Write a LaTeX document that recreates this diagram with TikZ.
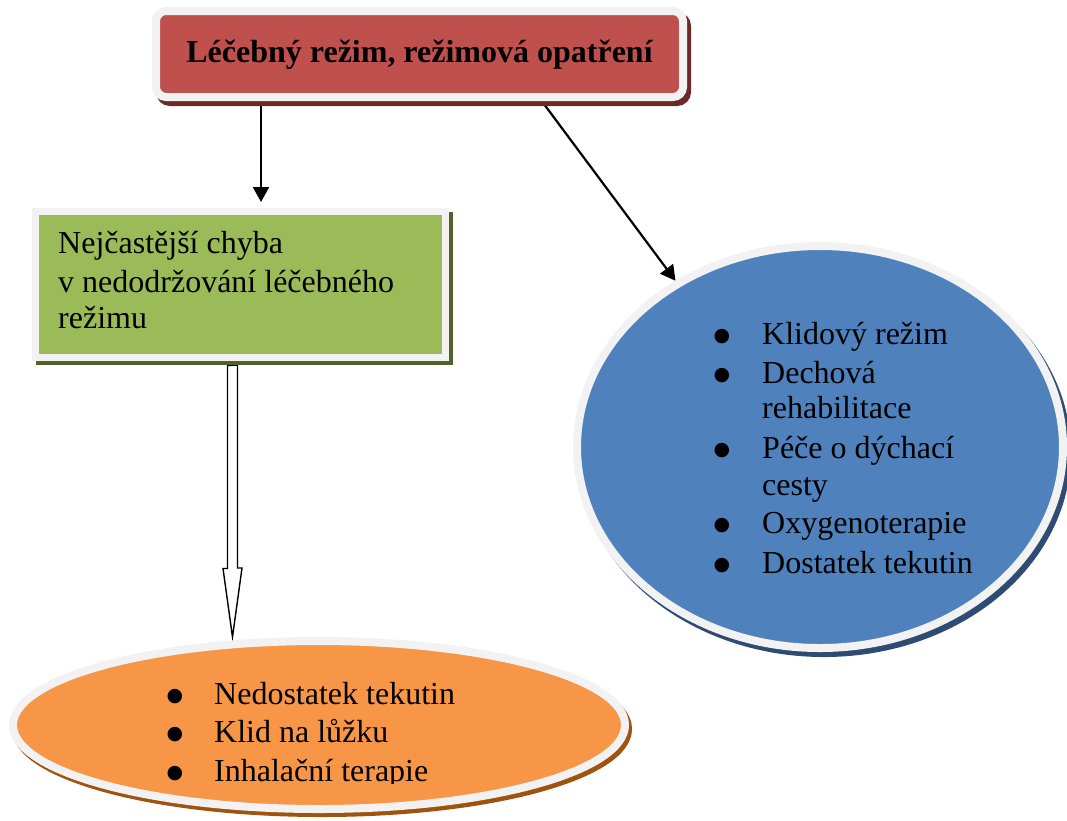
\documentclass[tikz,border=0pt]{standalone}
\usepackage{fontspec}
\setmainfont{Liberation Serif}
\newfontfamily\dotfont{DejaVu Sans}
\usetikzlibrary{arrows.meta,shapes.geometric,backgrounds,calc}

\definecolor{framegray}{HTML}{F2F2F2}
\definecolor{boxred}{HTML}{C0504D}
\definecolor{shadered}{HTML}{6B2A28}
\definecolor{boxgreen}{HTML}{9BBB59}
\definecolor{shadegreen}{HTML}{4F6228}
\definecolor{boxblue}{HTML}{4F81BD}
\definecolor{shadeblue}{HTML}{2E4B73}
\definecolor{boxorange}{HTML}{F79646}
\definecolor{shadeorange}{HTML}{A0520F}

\begin{document}
\begin{tikzpicture}[x=1pt,y=-1pt,
  framed/.style={draw=framegray, inner sep=0pt},
  titleshape/.style={rectangle, rounded corners=10pt, line width=8pt,
    minimum width=527pt, minimum height=86pt, inner sep=0pt},
  greenshape/.style={rectangle, line width=7pt,
    minimum width=410pt, minimum height=146pt, inner sep=0pt},
  blueshape/.style={ellipse, line width=8pt,
    minimum width=486pt, minimum height=402pt, inner sep=0pt},
  orangeshape/.style={ellipse, line width=8pt,
    minimum width=612pt, minimum height=168pt, inner sep=0pt},
  txt/.style={inner sep=0pt, anchor=base west, font=\fontsize{32}{38}\selectfont},
  bul/.style={inner sep=0pt, anchor=base, font=\dotfont\fontsize{19}{19}\selectfont},
  arr/.style={line width=2.2pt, -{Triangle[length=15pt,width=16pt]}},
  hollow/.style={draw=black, fill=white, line width=1.4pt, line join=miter}
]
\useasboundingbox (0,0) rectangle (1067,820);

% shadows
\node[titleshape, draw=shadered, fill=shadered] (titleshadow) at (423.5,59) {};
\node[greenshape, draw=shadegreen, fill=shadegreen] (greenshadow) at (244,288) {};
\node[blueshape, draw=shadeblue, fill=shadeblue] (blueshadow) at (824,452) {};
\node[orangeshape, draw=shadeorange, fill=shadeorange] (orangeshadow) at (322,729) {};

% boxes
\node[titleshape, framed, fill=boxred] (title) at (419.5,54) {};
\node[greenshape, framed, fill=boxgreen] (green) at (240,284) {};
\node[blueshape, framed, fill=boxblue] (blue) at (820,447) {};
\node[orangeshape, framed, fill=boxorange] (orange) at (319,725) {};

% connectors, behind the boxes and their shadows
\coordinate (ax) at (261,0);
\coordinate (bx) at (541.7,0);
\coordinate (cx) at (232.5,0);
\coordinate (btop) at ($(green.south -| cx)+(0,5)$);
\coordinate (btip) at (orange.north -| cx);
\begin{pgfonlayer}{background}
  \draw[arr, shorten >=5.5pt] (title.south -| ax) -- (green.north -| ax);
  \draw[arr] (title.south -| bx) -- (blue.131.6);
  \draw[hollow] (btop) ++(-5,0) -- ++(0,203) -- ++(-4.5,0) -- (btip)
    -- ++(9.5,-69) -- ++(-4.5,0) -- ++(0,-203) -- cycle;
\end{pgfonlayer}

% title
\node[inner sep=0pt, anchor=base, font=\fontsize{32}{38}\selectfont\bfseries]
  (titletext) at (419.5,62) {Léčebný režim, režimová opatření};

% green box text
\node[txt] (g1) at (58,253) {Nejčastější chyba};
\node[txt] (g2) at (58,292) {v nedodržování léčebného};
\node[txt] (g3) at (58,328) {režimu};

% blue list
\node[bul] (bb1) at (722,341) {●};
\node[txt] (b1) at (762,344) {Klidový režim};
\node[bul] (bb2) at (722,380) {●};
\node[txt] (b2) at (762,383) {Dechová};
\node[txt] (b2b) at (762,418) {rehabilitace};
\node[bul] (bb3) at (722,455) {●};
\node[txt] (b3) at (762,458) {Péče o dýchací};
\node[txt] (b3b) at (762,495) {cesty};
\node[bul] (bb4) at (722,530) {●};
\node[txt] (b4) at (762,533) {Oxygenoterapie};
\node[bul] (bb5) at (722,570) {●};
\node[txt] (b5) at (762,573) {Dostatek tekutin};

% orange list, last line cut off at the bottom
\begin{scope}
  \clip (0,0) rectangle (1067,783);
  \node[bul] (ob1) at (175,701) {●};
  \node[txt] (o1) at (214,704) {Nedostatek tekutin};
  \node[bul] (ob2) at (175,739) {●};
  \node[txt] (o2) at (214,742) {Klid na lůžku};
  \node[bul] (ob3) at (175,778) {●};
  \node[txt] (o3) at (214,781) {Inhalační terapie};
\end{scope}
\end{tikzpicture}
\end{document}
